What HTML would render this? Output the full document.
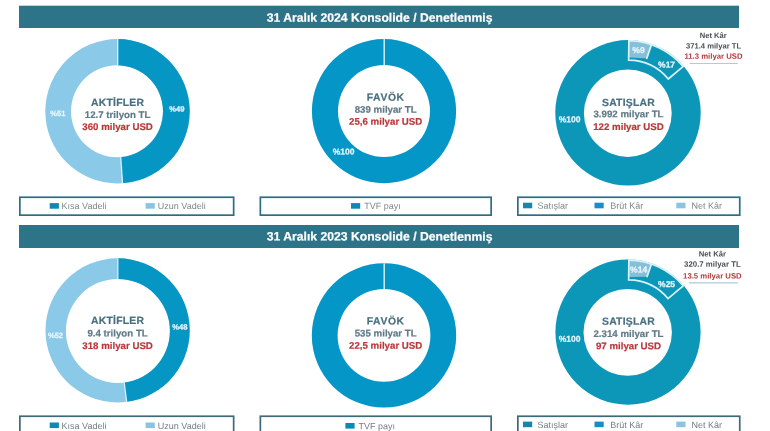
<!DOCTYPE html>
<html lang="tr"><head><meta charset="utf-8"><title>Konsolide</title>
<style>
html,body{margin:0;padding:0;background:#fff;}
body{width:770px;height:431px;overflow:hidden;}
svg{display:block;font-family:"Liberation Sans",sans-serif;}
text{white-space:pre;text-rendering:geometricPrecision;}
.h{font-weight:bold;font-size:12.2px;fill:#fff;stroke:#fff;stroke-width:0.2px;text-anchor:middle;}
.c{font-weight:bold;text-anchor:middle;stroke-width:0.2px;}
.pl{font-weight:bold;font-size:7.6px;fill:#e6f7fd;stroke:#e6f7fd;stroke-width:0.25px;text-anchor:middle;}
.pl2{font-weight:bold;font-size:8.5px;fill:#e6f7fd;stroke:#e6f7fd;stroke-width:0.25px;text-anchor:middle;}
.pl3{font-weight:bold;font-size:8.6px;fill:#e6f7fd;stroke:#e6f7fd;stroke-width:0.25px;text-anchor:middle;}
.n{font-weight:bold;text-anchor:middle;}
.l{font-size:9px;}
</style></head>
<body>
<svg width="770" height="431" viewBox="0 0 770 431">
<defs><filter id="soft" x="0" y="0" width="770" height="431" filterUnits="userSpaceOnUse" color-interpolation-filters="sRGB"><feGaussianBlur stdDeviation="0.45"/></filter></defs>
<rect x="0" y="0" width="770" height="431" fill="#fff"/>
<g filter="url(#soft)">
<rect x="-5" y="-5" width="780" height="441" fill="#fff"/>
<rect x="19" y="5.7" width="720" height="22.3" fill="#2d7489"/>
<text x="379.6" y="21.7" class="h" transform="rotate(0.03 379.6 21.7)">31 Aralık 2024 Konsolide / Denetlenmiş</text>
<path d="M45.30,111.3 a72.2,72.2 0 1 0 144.4,0 a72.2,72.2 0 1 0 -144.4,0 Z M71.00,111.3 a46.0,46.0 0 1 0 92.0,0 a46.0,46.0 0 1 0 -92.0,0 Z" fill="#8ac9e7" fill-rule="evenodd"/>
<clipPath id="c2024"><path d="M117.5,111.3 L117.5,34.099999999999994 L194.7,34.099999999999994 L194.7,188.5 L122.89,188.5 L122.89,188.31 Z"/></clipPath>
<g clip-path="url(#c2024)"><path d="M45.30,111.3 a72.2,72.2 0 1 0 144.4,0 a72.2,72.2 0 1 0 -144.4,0 Z M71.00,111.3 a46.0,46.0 0 1 0 92.0,0 a46.0,46.0 0 1 0 -92.0,0 Z" fill="#0596c3" fill-rule="evenodd"/></g>
<line x1="117.7" y1="39.099999999999994" x2="117.7" y2="65.3" stroke="#d8f3fb" stroke-width="1.3"/>
<line x1="122.54" y1="183.32" x2="120.64" y2="156.19" stroke="#d8f3fb" stroke-width="1.3"/>
<text class="pl" x="176.8" y="111.5" transform="rotate(0.03 176.8 111.5)">%49</text>
<text class="pl" x="57.8" y="116.0" transform="rotate(0.03 57.8 116.0)">%51</text>
<text x="117.6" y="105.9" font-size="10.4" fill="#487082" stroke="#487082" class="c" letter-spacing="0.22" transform="rotate(0.03 117.6 105.9)">AKTİFLER</text>
<text x="117.6" y="118.0" font-size="9.7" fill="#607a88" stroke="#607a88" class="c" transform="rotate(0.03 117.6 118.0)">12.7 trilyon TL</text>
<text x="117.6" y="130.0" font-size="9.7" fill="#b9383a" stroke="#b9383a" class="c" transform="rotate(0.03 117.6 130.0)">360 milyar USD</text>
<path d="M311.90,111.1 a72.1,72.1 0 1 0 144.2,0 a72.1,72.1 0 1 0 -144.2,0 Z M338.00,111.1 a46,46 0 1 0 92,0 a46,46 0 1 0 -92,0 Z" fill="#0396c7" fill-rule="evenodd"/>
<line x1="384.2" y1="39.0" x2="384.2" y2="65.1" stroke="#d8f3fb" stroke-width="1.4"/>
<text class="pl2" x="343.6" y="154.5" transform="rotate(0.03 343.6 154.5)">%100</text>
<text x="385.7" y="100.7" font-size="10.4" fill="#487082" stroke="#487082" class="c" letter-spacing="0.6" transform="rotate(0.03 385.7 100.7)">FAVÖK</text>
<text x="385.7" y="112.8" font-size="9.7" fill="#607a88" stroke="#607a88" class="c" transform="rotate(0.03 385.7 112.8)">839 milyar TL</text>
<text x="385.7" y="124.8" font-size="9.7" fill="#b9383a" stroke="#b9383a" class="c" transform="rotate(0.03 385.7 124.8)">25,6 milyar USD</text>
<path d="M555.30,112.8 a72.7,72.7 0 1 0 145.4,0 a72.7,72.7 0 1 0 -145.4,0 Z M583.90,113.2 a43.9,43.7 0 1 0 87.8,0 a43.9,43.7 0 1 0 -87.8,0 Z" fill="#0c97b9" fill-rule="evenodd"/>
<path d="M628.88,40.71 A72.10000000000001,72.10000000000001 0 0 1 651.47,44.63 L646.75,58.34 L628.68,57.50 Z" fill="#88bfd8"/>
<path d="M628.88,40.71 A72.10000000000001,72.10000000000001 0 0 1 683.23,66.46 L668.29,78.99 A52.6,52.6 0 0 0 628.64,60.20 Z" fill="none" stroke="#d8f3fb" stroke-width="1.7" stroke-linejoin="miter"/>
<path d="M651.47,44.63 L646.56,58.91" fill="none" stroke="#d8f3fb" stroke-width="1.7"/>
<text class="pl2" x="569.5" y="122.3" transform="rotate(0.03 569.5 122.3)">%100</text>
<text class="pl2" x="666.6" y="67.5" transform="rotate(0.03 666.6 67.5)">%17</text>
<text class="pl3" x="638.5" y="53.0" transform="rotate(0.03 638.5 53.0)">%9</text>
<text x="628.5" y="106.0" font-size="10.4" fill="#487082" stroke="#487082" class="c" letter-spacing="0.22" transform="rotate(0.03 628.5 106.0)">SATIŞLAR</text>
<text x="628.5" y="117.2" font-size="9.7" fill="#607a88" stroke="#607a88" class="c" transform="rotate(0.03 628.5 117.2)">3.992 milyar TL</text>
<text x="628.5" y="129.95" font-size="9.7" fill="#b9383a" stroke="#b9383a" class="c" transform="rotate(0.03 628.5 129.95)">122 milyar USD</text>
<text class="n" x="713.2" y="38.0" font-size="7.6" fill="#4a4f54" transform="rotate(0.03 713.2 38.0)">Net Kâr</text>
<text class="n" x="713.5" y="48.4" font-size="7.65" fill="#4a4f54" transform="rotate(0.03 713.5 48.4)">371.4 milyar TL</text>
<text class="n" x="713.5" y="58.8" font-size="7.75" fill="#b9383a" transform="rotate(0.03 713.5 58.8)">11.3 milyar USD</text>
<line x1="689.5" y1="63.5" x2="737.8" y2="63.5" stroke="#9fb0ba" stroke-width="0.7"/>
<rect x="19.85" y="197.25" width="213.8" height="17.900000000000002" fill="#fff" stroke="#2b6f84" stroke-width="1.7"/>
<rect x="49.7" y="203.10" width="9.2" height="5.6" fill="#0c8ab5"/>
<text x="61.6" y="209.10" class="l" fill="#7d878c" transform="rotate(0.03 61.6 209.10)">Kısa Vadeli</text>
<rect x="145.6" y="203.10" width="9.2" height="5.6" fill="#8cc4e0"/>
<text x="157.8" y="209.10" class="l" fill="#7d878c" transform="rotate(0.03 157.8 209.10)">Uzun Vadeli</text>
<rect x="260.35" y="197.25" width="230.8" height="17.900000000000002" fill="#fff" stroke="#2b6f84" stroke-width="1.7"/>
<rect x="351" y="203.10" width="9.2" height="5.6" fill="#0c8ab5"/>
<text x="364.2" y="209.10" class="l" fill="#7d878c" transform="rotate(0.03 364.2 209.10)">TVF payı</text>
<rect x="517.85" y="197.25" width="221.9" height="17.900000000000002" fill="#fff" stroke="#2b6f84" stroke-width="1.7"/>
<rect x="523" y="202.70" width="9.2" height="5.6" fill="#1587ab"/>
<text x="537.4" y="208.80" class="l" fill="#7d878c" transform="rotate(0.03 537.4 208.80)">Satışlar</text>
<rect x="594.5" y="202.70" width="9.2" height="5.6" fill="#1a8ccb"/>
<text x="610.2" y="208.80" class="l" fill="#7d878c" transform="rotate(0.03 610.2 208.80)">Brüt Kâr</text>
<rect x="676.3" y="202.70" width="9.2" height="5.6" fill="#8cc4e0"/>
<text x="691.5" y="208.80" class="l" fill="#7d878c" transform="rotate(0.03 691.5 208.80)">Net Kâr</text>
<rect x="19" y="225" width="720" height="23" fill="#2d7489"/>
<text x="379.6" y="240.6" class="h" transform="rotate(0.03 379.6 240.6)">31 Aralık 2023 Konsolide / Denetlenmiş</text>
<path d="M45.50,330.4 a72.1,72.1 0 1 0 144.2,0 a72.1,72.1 0 1 0 -144.2,0 Z M65.90,330.9 a52.0,52.0 0 1 0 104.0,0 a52.0,52.0 0 1 0 -104.0,0 Z" fill="#8ac9e7" fill-rule="evenodd"/>
<clipPath id="c2023"><path d="M117.6,330.4 L117.6,253.29999999999995 L194.7,253.29999999999995 L194.7,407.5 L127.26,407.5 L127.26,406.89 Z"/></clipPath>
<g clip-path="url(#c2023)"><path d="M45.50,330.4 a72.1,72.1 0 1 0 144.2,0 a72.1,72.1 0 1 0 -144.2,0 Z M65.90,330.9 a52.0,52.0 0 1 0 104.0,0 a52.0,52.0 0 1 0 -104.0,0 Z" fill="#0596c3" fill-rule="evenodd"/></g>
<line x1="117.8" y1="258.29999999999995" x2="117.8" y2="278.9" stroke="#d8f3fb" stroke-width="1.3"/>
<line x1="126.64" y1="401.93" x2="123.99" y2="381.00" stroke="#d8f3fb" stroke-width="1.3"/>
<text class="pl" x="179.8" y="329.5" transform="rotate(0.03 179.8 329.5)">%48</text>
<text class="pl" x="55.5" y="337.9" transform="rotate(0.03 55.5 337.9)">%52</text>
<text x="117.6" y="324.0" font-size="10.4" fill="#487082" stroke="#487082" class="c" letter-spacing="0.22" transform="rotate(0.03 117.6 324.0)">AKTİFLER</text>
<text x="117.6" y="336.6" font-size="9.7" fill="#607a88" stroke="#607a88" class="c" transform="rotate(0.03 117.6 336.6)">9.4 trilyon TL</text>
<text x="117.6" y="349.1" font-size="9.7" fill="#b9383a" stroke="#b9383a" class="c" transform="rotate(0.03 117.6 349.1)">318 milyar USD</text>
<path d="M311.80,335.4 a72.2,72.2 0 1 0 144.4,0 a72.2,72.2 0 1 0 -144.4,0 Z M337.60,335.4 a46.4,46.4 0 1 0 92.8,0 a46.4,46.4 0 1 0 -92.8,0 Z" fill="#0396c7" fill-rule="evenodd"/>
<line x1="384.2" y1="263.2" x2="384.2" y2="289.0" stroke="#d8f3fb" stroke-width="1.4"/>
<text x="385.7" y="324.5" font-size="10.4" fill="#487082" stroke="#487082" class="c" letter-spacing="0.6" transform="rotate(0.03 385.7 324.5)">FAVÖK</text>
<text x="385.7" y="336.5" font-size="9.7" fill="#607a88" stroke="#607a88" class="c" transform="rotate(0.03 385.7 336.5)">535 milyar TL</text>
<text x="385.7" y="348.7" font-size="9.7" fill="#b9383a" stroke="#b9383a" class="c" transform="rotate(0.03 385.7 348.7)">22,5 milyar USD</text>
<path d="M555.40,332.1 a72.6,72.6 0 1 0 145.2,0 a72.6,72.6 0 1 0 -145.2,0 Z M583.50,332.4 a44.2,43.4 0 1 0 88.4,0 a44.2,43.4 0 1 0 -88.4,0 Z" fill="#0c97b9" fill-rule="evenodd"/>
<path d="M628.88,260.11 A72.0,72.0 0 0 1 651.44,264.02 L647.08,276.69 L628.67,276.90 Z" fill="#88bfd8"/>
<path d="M628.88,260.11 A72.0,72.0 0 0 1 683.16,285.82 L667.99,298.55 A52.2,52.2 0 0 0 628.64,279.90 Z" fill="none" stroke="#d8f3fb" stroke-width="1.7" stroke-linejoin="miter"/>
<path d="M651.44,264.02 L646.88,277.26" fill="none" stroke="#d8f3fb" stroke-width="1.7"/>
<text class="pl2" x="569.5" y="341.7" transform="rotate(0.03 569.5 341.7)">%100</text>
<text class="pl2" x="666.6" y="286.9" transform="rotate(0.03 666.6 286.9)">%25</text>
<text class="pl3" x="638.7" y="272.5" transform="rotate(0.03 638.7 272.5)">%14</text>
<text x="628.5" y="324.7" font-size="10.4" fill="#487082" stroke="#487082" class="c" letter-spacing="0.22" transform="rotate(0.03 628.5 324.7)">SATIŞLAR</text>
<text x="628.5" y="337.0" font-size="9.7" fill="#607a88" stroke="#607a88" class="c" transform="rotate(0.03 628.5 337.0)">2.314 milyar TL</text>
<text x="628.5" y="349.3" font-size="9.7" fill="#b9383a" stroke="#b9383a" class="c" transform="rotate(0.03 628.5 349.3)">97 milyar USD</text>
<text class="n" x="712.4" y="256.5" font-size="7.7" fill="#4a4f54" transform="rotate(0.03 712.4 256.5)">Net Kâr</text>
<text class="n" x="712.4" y="266.8" font-size="7.85" fill="#4a4f54" transform="rotate(0.03 712.4 266.8)">320.7 milyar TL</text>
<text class="n" x="712.4" y="278.6" font-size="7.75" fill="#b9383a" transform="rotate(0.03 712.4 278.6)">13.5 milyar USD</text>
<line x1="689.0" y1="282.9" x2="737.8" y2="282.9" stroke="#86b4c8" stroke-width="0.9"/>
<rect x="19.85" y="416.25" width="213.8" height="17.900000000000002" fill="#fff" stroke="#3f6977" stroke-width="1.7"/>
<rect x="49.7" y="422.50" width="9.2" height="5.6" fill="#0c8ab5"/>
<text x="61.6" y="429.10" class="l" fill="#737d82" transform="rotate(0.03 61.6 429.10)">Kısa Vadeli</text>
<rect x="145.6" y="422.50" width="9.2" height="5.6" fill="#8cc4e0"/>
<text x="157.8" y="429.10" class="l" fill="#737d82" transform="rotate(0.03 157.8 429.10)">Uzun Vadeli</text>
<rect x="260.35" y="416.25" width="230.8" height="17.900000000000002" fill="#fff" stroke="#3f6977" stroke-width="1.7"/>
<rect x="345.4" y="423.00" width="9.2" height="5.6" fill="#0c8ab5"/>
<text x="358.59999999999997" y="429.20" class="l" fill="#737d82" transform="rotate(0.03 358.59999999999997 429.20)">TVF payı</text>
<rect x="517.85" y="416.25" width="221.9" height="17.900000000000002" fill="#fff" stroke="#3f6977" stroke-width="1.7"/>
<rect x="523" y="421.60" width="9.2" height="5.6" fill="#1587ab"/>
<text x="537.4" y="428.00" class="l" fill="#737d82" transform="rotate(0.03 537.4 428.00)">Satışlar</text>
<rect x="594.5" y="421.60" width="9.2" height="5.6" fill="#1a8ccb"/>
<text x="610.2" y="428.00" class="l" fill="#737d82" transform="rotate(0.03 610.2 428.00)">Brüt Kâr</text>
<rect x="676.3" y="421.60" width="9.2" height="5.6" fill="#8cc4e0"/>
<text x="691.5" y="428.00" class="l" fill="#737d82" transform="rotate(0.03 691.5 428.00)">Net Kâr</text>
</g>
</svg>
</body></html>
